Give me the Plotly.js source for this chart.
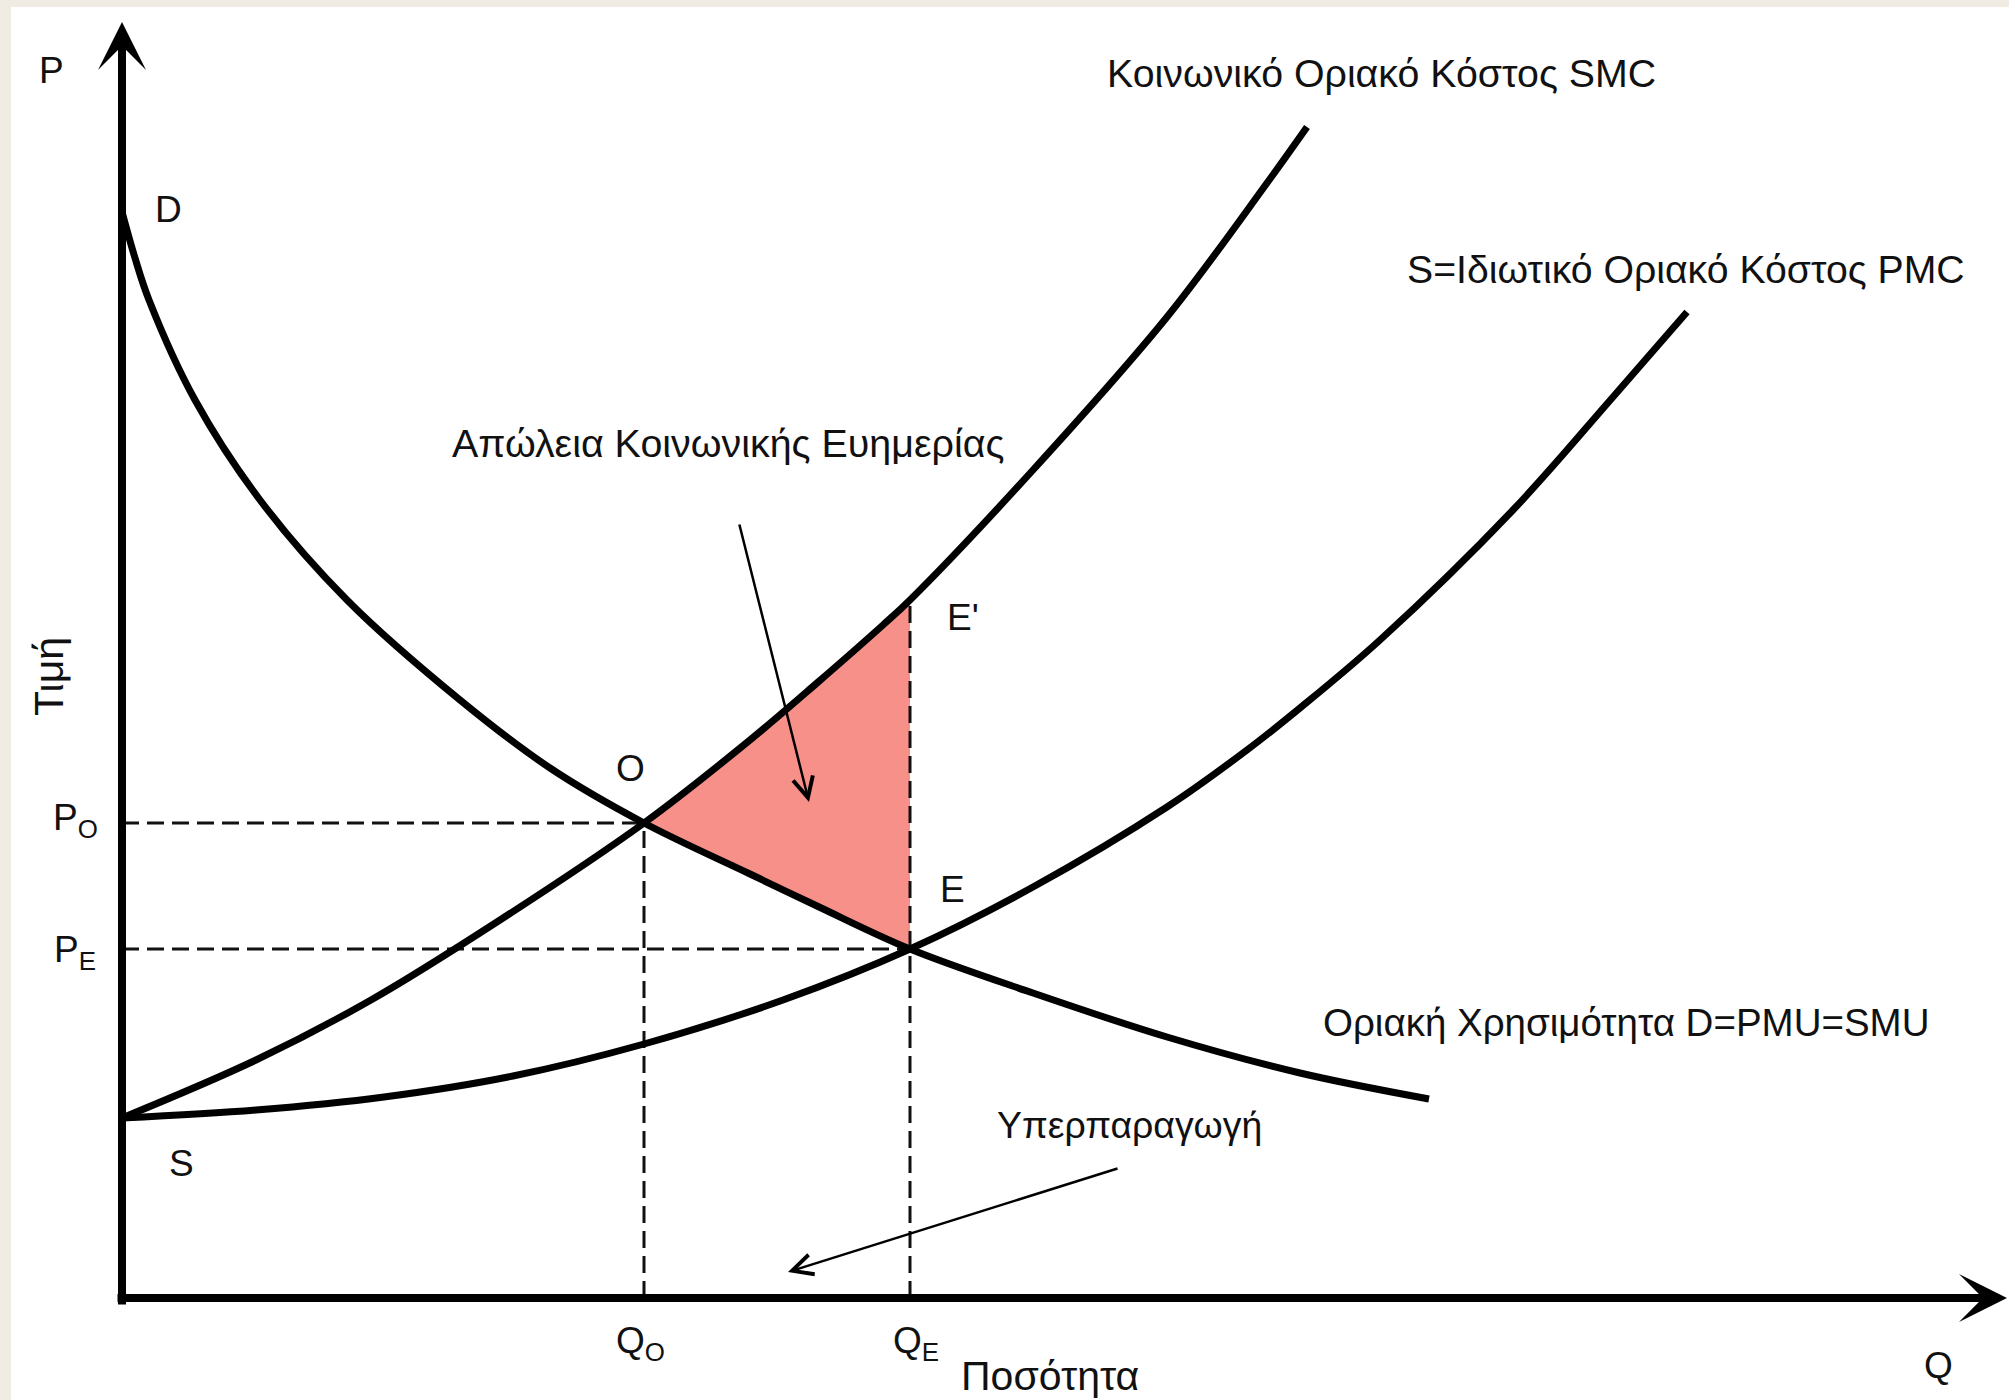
<!DOCTYPE html>
<html>
<head>
<meta charset="utf-8">
<script src="https://cdn.plot.ly/plotly-3.0.1.min.js"></script>
<style>
  html, body { margin: 0; padding: 0; background: #f0ece4; }
  #chart { width: 2009px; height: 1400px; }
</style>
</head>
<body>
<div id="chart"></div>
<script>
// ---- Data ----
// Demand / marginal utility curve D = PMU = SMU
const demandQ = [0, 1.3, 2.7, 7.3, 13.8, 22.5, 33.8, 42.8, 52.2, 62.8, 69.5, 78.8, 91.1, 104.5, 117.8, 130.7];
const demandP = [108.6, 104.0, 99.8, 89.8, 79.8, 69.8, 59.8, 53.0, 47.5, 42.4, 39.2, 34.9, 30.5, 26.1, 22.5, 19.9];
// Social marginal cost SMC
const smcQ = [0, 13.4, 24.9, 37.8, 52.2, 62.8, 69.5, 76.1, 78.8, 91.1, 104.5, 114.5, 118.5];
const smcP = [18.0, 23.8, 29.8, 37.8, 47.5, 55.8, 61.5, 67.3, 69.8, 82.8, 98.1, 111.5, 117.1];
// Private marginal cost PMC (supply S)
const pmcQ = [0, 13.4, 26.2, 39.1, 52.2, 66.1, 78.8, 91.1, 104.5, 112.5, 117.8, 125.8, 139.1, 149.1, 156.5];
const pmcP = [18.0, 18.8, 20.1, 22.2, 25.4, 29.8, 34.9, 41.1, 49.1, 54.8, 59.0, 65.8, 78.8, 90.1, 98.6];
// Key points
const Q_O = 52.2, Q_E = 78.8;
const P_O = 47.5, P_E = 34.9, P_Eprime = 69.8;
// Texts
const labelSMC = 'Κοινωνικό Οριακό Κόστος SMC';
const labelPMC = 'S=Ιδιωτικό Οριακό Κόστος PMC';
const labelD = 'Οριακή Χρησιμότητα D=PMU=SMU';
const labelLoss = 'Απώλεια Κοινωνικής Ευημερίας';
const labelOver = 'Υπερπαραγωγή';
const labelPrice = 'Τιμή';
const labelQty = 'Ποσότητα';

// ---- Welfare loss polygon (built from the curves) ----
const polyQ = [], polyP = [];
smcQ.forEach((q, i) => { if (q >= Q_O && q <= Q_E) { polyQ.push(q); polyP.push(smcP[i]); } });
for (let i = demandQ.length - 1; i >= 0; i--) {
  if (demandQ[i] >= Q_O && demandQ[i] <= Q_E) { polyQ.push(demandQ[i]); polyP.push(demandP[i]); }
}

const curveLine = { color: '#000', width: 7, shape: 'spline', smoothing: 1.0 };
const dashLine = { color: '#111', width: 3, dash: '17px,8px' };

const traces = [
  { x: polyQ, y: polyP, mode: 'lines', fill: 'toself', fillcolor: '#F8908A',
    line: { width: 0, color: '#F8908A' }, hoverinfo: 'skip' },
  { x: [0, Q_O], y: [P_O, P_O], mode: 'lines', line: dashLine, hoverinfo: 'skip' },
  { x: [0, Q_E], y: [P_E, P_E], mode: 'lines', line: dashLine, hoverinfo: 'skip' },
  { x: [Q_O, Q_O], y: [0, P_O], mode: 'lines', line: dashLine, hoverinfo: 'skip' },
  { x: [Q_E, Q_E], y: [0, P_Eprime], mode: 'lines', line: dashLine, hoverinfo: 'skip' },
  { x: demandQ, y: demandP, mode: 'lines', line: curveLine, hoverinfo: 'skip' },
  { x: smcQ, y: smcP, mode: 'lines', line: curveLine, hoverinfo: 'skip' },
  { x: pmcQ, y: pmcP, mode: 'lines', line: curveLine, hoverinfo: 'skip' }
];

const FONT = 'Liberation Sans, Arial, Helvetica, sans-serif';
function lbl(text, x, y, xanchor, size, extra) {
  return Object.assign({ text: text, x: x, y: y, xref: 'x', yref: 'y', showarrow: false,
    xanchor: xanchor || 'center', yanchor: 'middle',
    font: { family: FONT, size: size || 37, color: '#111' } }, extra || {});
}
function arrow(x, y, ax, ay, head, width, size) {
  return { text: '', x: x, y: y, ax: ax, ay: ay, xref: 'x', yref: 'y', axref: 'x', ayref: 'y',
    showarrow: true, arrowhead: head, arrowwidth: width, arrowsize: size, arrowcolor: '#000' };
}

const annotations = [
  // axes
  arrow(0, 127.6, 0, -0.8, 3, 8, 1.0),
  arrow(188.5, 0, -0.6, 0, 3, 8, 1.0),
  // pointer arrows
  arrow(68.7, 49.6, 61.7, 77.5, 5, 2.5, 1.6),
  arrow(66.6, 2.6, 99.7, 13.0, 5, 2.5, 1.6),
  // labels
  lbl('P', -7.1, 122.8),
  lbl('D', 4.6, 108.9),
  lbl(labelSMC, 98.3, 122.5, 'left', 39.3),
  lbl(labelPMC, 128.3, 102.9, 'left', 39.2),
  lbl(labelLoss, 32.8, 85.5, 'left', 39.4),
  lbl("E'", 82.3, 68.1, 'left'),
  lbl('O', 50.8, 53.0),
  lbl('E', 81.6, 40.9, 'left'),
  lbl(labelD, 119.9, 27.6, 'left', 38.5),
  lbl(labelOver, 87.3, 17.3, 'left', 37.4),
  lbl('S', 5.9, 13.5),
  lbl('P<sub>O</sub>', -4.7, 47.8),
  lbl('P<sub>E</sub>', -4.7, 34.6),
  lbl('Q<sub>O</sub>', Q_O - 0.4, -4.5),
  lbl('Q<sub>E</sub>', Q_E + 0.6, -4.5),
  lbl(labelQty, 83.7, -7.8, 'left', 41),
  lbl('Q', 181.6, -6.7),
  lbl(labelPrice, -7.3, 62.1, 'center', 41, { textangle: -90 })
];

const layout = {
  width: 2009, height: 1400,
  margin: { l: 0, r: 0, t: 0, b: 0, pad: 0 },
  paper_bgcolor: '#f0ece4',
  plot_bgcolor: 'rgba(0,0,0,0)',
  showlegend: false,
  hovermode: false,
  xaxis: { range: [-12.2, 188.7], visible: false, fixedrange: true },
  yaxis: { range: [-10.2, 129.8], visible: false, fixedrange: true },
  shapes: [
    { type: 'rect', xref: 'paper', yref: 'paper', x0: 11 / 2009, x1: 1, y0: 0, y1: 1 - 7 / 1400,
      fillcolor: '#ffffff', line: { width: 0 }, layer: 'below' }
  ],
  annotations: annotations
};

Plotly.newPlot('chart', traces, layout, { displayModeBar: false, staticPlot: true });
</script>
</body>
</html>
